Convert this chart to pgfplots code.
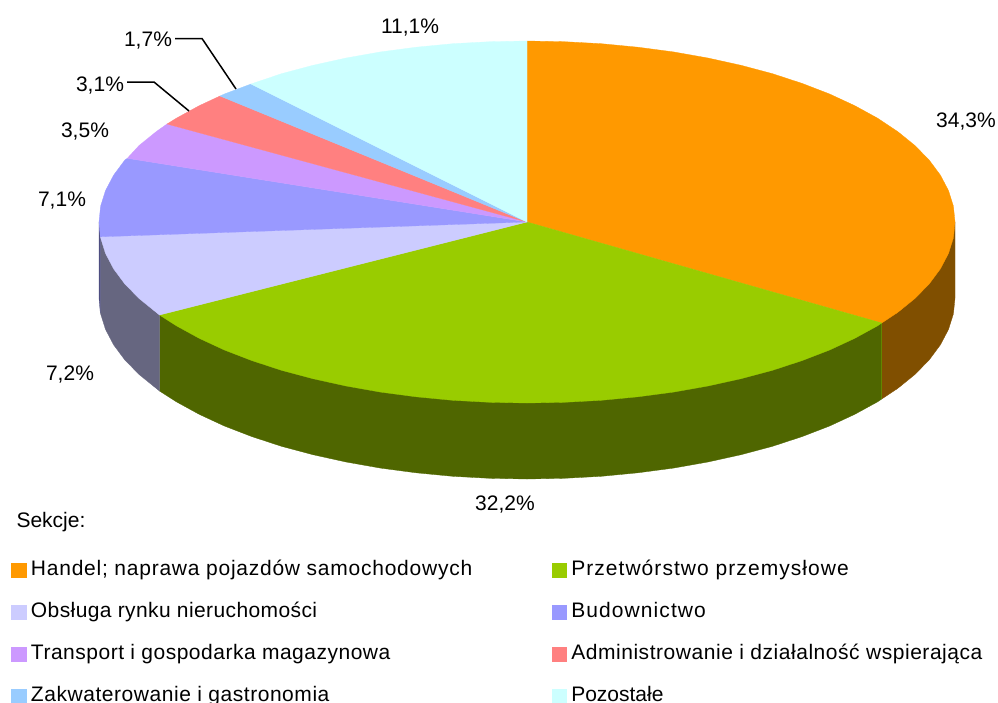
\documentclass[border=0pt]{standalone}
\usepackage{pgfplots}
\usepackage{fontspec}
\setmainfont{Liberation Sans}
\pgfplotsset{compat=1.18}
\definecolor{cOr}{HTML}{FF9900}
\definecolor{cGr}{HTML}{99CC00}
\definecolor{cLa}{HTML}{CCCCFF}
\definecolor{cBl}{HTML}{9999FF}
\definecolor{cPu}{HTML}{CC99FF}
\definecolor{cRe}{HTML}{FF8080}
\definecolor{cLb}{HTML}{99CCFF}
\definecolor{cCy}{HTML}{CCFFFF}
\definecolor{wOr}{HTML}{804F00}
\definecolor{wGr}{HTML}{4F6600}
\definecolor{wLa}{HTML}{666680}
\definecolor{wBl}{HTML}{4D4D80}
\newcommand{\lab}{\fontsize{21}{24}\selectfont}
\newcommand{\LS}[2]{{\addfontfeature{LetterSpace=#1}#2}}
\begin{document}
\begin{tikzpicture}
\clip (0,0) rectangle (998pt,702pt);
\begin{axis}[
  at={(0,0)}, anchor=south west,
  scale only axis, width=998pt, height=702pt,
  xmin=0, xmax=998, ymin=0, ymax=702, y dir=reverse,
  hide axis, clip=false,
  legend columns=2,
  legend cell align=left,
  legend image code/.code={\path[#1,line width=0pt] (0pt,-7pt) rectangle (14pt,7pt);},
  legend style={
    draw=none, fill=none, at={(axis cs:12,560)}, anchor=north west,
    inner sep=0pt, outer sep=0pt,
    font=\fontsize{21}{24}\selectfont,
    row sep=22pt,
    nodes={text height=15pt,text depth=5pt,inner sep=0pt,outer sep=0pt},
    /tikz/every odd column/.append style={column sep=5pt},
    /tikz/every even column/.append style={column sep=80pt},
  },
]
% side walls
\addplot[forget plot,fill=wOr,draw=wOr,line width=0.3pt] coordinates {(955,222)(955,298)(953.4,313.8)(948.5,329.4)(940.4,344.8)(929.2,359.9)(914.9,374.5)(897.6,388.5)(881.7,399)(881.7,323)} -- cycle;
\addplot[forget plot,fill=wGr,draw=wGr,line width=0.3pt] coordinates {(881.7,323)(881.7,399)(877.6,401.8)(854.8,414.3)(829.6,426)(802.1,436.6)(772.5,446.3)(741,454.7)(707.9,462)(673.4,468.1)(637.8,472.8)(601.3,476.3)(564.3,478.3)(527,479)(489.7,478.3)(452.7,476.3)(416.2,472.8)(380.6,468.1)(346.1,462)(313,454.7)(281.5,446.3)(251.9,436.6)(224.4,426)(199.2,414.3)(176.4,401.8)(159.5,391)(159.5,315)} -- cycle;
\addplot[forget plot,fill=wLa,draw=wLa,line width=0.3pt] coordinates {(159.5,315)(159.5,391)(156.4,388.5)(139.1,374.5)(124.8,359.9)(113.6,344.8)(105.5,329.4)(100.6,313.8)(100.3,312.8)(100.3,236.8)} -- cycle;
\addplot[forget plot,fill=wBl,draw=wBl,line width=0.3pt] coordinates {(100.3,236.8)(100.3,312.8)(99,298)(99,222)} -- cycle;
\addplot[forget plot,draw=black!35!cGr,line width=0.6pt] coordinates {(881.7,323)(881.7,399)};
% top slices
\addplot[fill=cOr,draw=cOr,line width=0.3pt] coordinates {(527,222)(527,41)(564.3,41.7)(601.3,43.7)(637.8,47.2)(673.4,51.9)(707.9,58)(741,65.3)(772.5,73.7)(802.1,83.4)(829.6,94)(854.8,105.7)(877.6,118.2)(897.6,131.5)(914.9,145.5)(929.2,160.1)(940.4,175.2)(948.5,190.6)(953.4,206.2)(955,222)(953.4,237.8)(948.5,253.4)(940.4,268.8)(929.2,283.9)(914.9,298.5)(897.6,312.5)(881.7,323)} -- cycle;
\addplot[fill=cGr,draw=cGr,line width=0.3pt] coordinates {(527,222)(881.7,323)(877.6,325.8)(854.8,338.3)(829.6,350)(802.1,360.6)(772.5,370.3)(741,378.7)(707.9,386)(673.4,392.1)(637.8,396.8)(601.3,400.3)(564.3,402.3)(527,403)(489.7,402.3)(452.7,400.3)(416.2,396.8)(380.6,392.1)(346.1,386)(313,378.7)(281.5,370.3)(251.9,360.6)(224.4,350)(199.2,338.3)(176.4,325.8)(159.5,315)} -- cycle;
\addplot[fill=cLa,draw=cLa,line width=0.3pt] coordinates {(527,222)(159.5,315)(156.4,312.5)(139.1,298.5)(124.8,283.9)(113.6,268.8)(105.5,253.4)(100.3,236.8)} -- cycle;
\addplot[fill=cBl,draw=cBl,line width=0.3pt] coordinates {(527,222)(100.3,236.8)(99,222)(100.6,206.2)(105.5,190.6)(113.6,175.2)(124.8,160.1)(127.3,158.3)} -- cycle;
\addplot[fill=cPu,draw=cPu,line width=0.3pt] coordinates {(527,222)(127.3,158.3)(139.1,145.5)(156.4,131.5)(167,124)} -- cycle;
\addplot[fill=cRe,draw=cRe,line width=0.3pt] coordinates {(527,222)(167,124)(176.4,118.2)(199.2,105.7)(220,96)} -- cycle;
\addplot[fill=cLb,draw=cLb,line width=0.3pt] coordinates {(527,222)(220,96)(224.4,94)(251,84)} -- cycle;
\addplot[fill=cCy,draw=cCy,line width=0.3pt] coordinates {(527,222)(251,84)(281.5,73.7)(313,65.3)(346.1,58)(380.6,51.9)(416.2,47.2)(452.7,43.7)(489.7,41.7)(527,41)} -- cycle;
% leader lines
\addplot[forget plot,black,line width=1.5pt] coordinates {(175,38.5)(202,38.5)(236,89)};
\addplot[forget plot,black,line width=1.5pt] coordinates {(127,82)(154,82)(189,111)};
\legend{\LS{3.6}{Handel; naprawa pojazdów samochodowych},\LS{5}{Przetwórstwo przemysłowe},\LS{1.9}{Obsługa rynku nieruchomości},\LS{5.2}{Budownictwo},\LS{2.4}{Transport i gospodarka magazynowa},\LS{2.6}{Administrowanie i działalność wspierająca},\LS{2.6}{Zakwaterowanie i gastronomia},Pozostałe}
% labels
\node[font=\lab] at (axis cs:966,122) {34,3\%};
\node[font=\lab] at (axis cs:505,505) {32,2\%};
\node[font=\lab] at (axis cs:70,375) {7,2\%};
\node[font=\lab] at (axis cs:62,201) {7,1\%};
\node[font=\lab] at (axis cs:85,132) {3,5\%};
\node[font=\lab] at (axis cs:100,86) {3,1\%};
\node[font=\lab] at (axis cs:148,41) {1,7\%};
\node[font=\lab] at (axis cs:410,28) {11,1\%};
\node[font=\lab,anchor=west] at (axis cs:13,522.5) {Sekcje:};
\end{axis}
\end{tikzpicture}
\end{document}
